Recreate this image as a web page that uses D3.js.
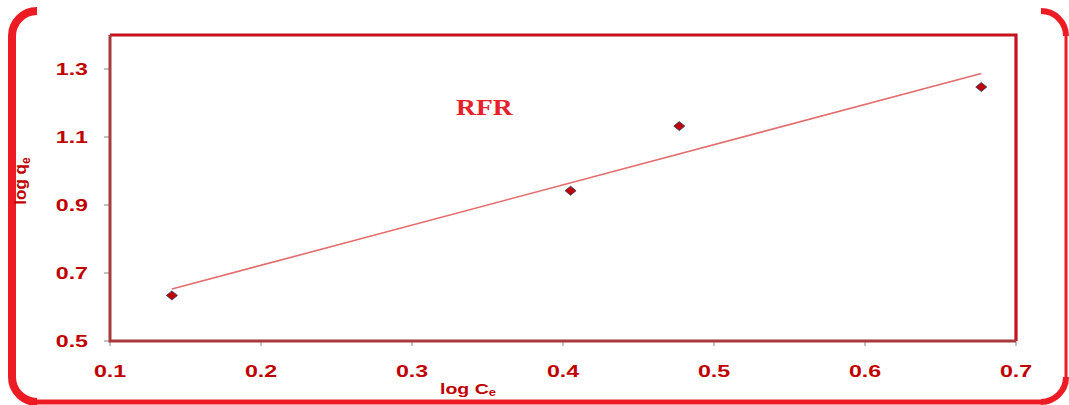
<!DOCTYPE html>
<html>
<head>
<meta charset="utf-8">
<script src="https://cdn.jsdelivr.net/npm/d3@7"></script>
<style>
  html, body { margin: 0; padding: 0; background: #fff; }
  svg { display: block; }
</style>
</head>
<body>
<svg id="chart" width="1069" height="405"></svg>
<script>
// Freundlich isotherm (linear form) for RFR
const logCe = [0.141, 0.405, 0.477, 0.677];
const logQe = [0.634, 0.942, 1.132, 1.247];
const xTicks = [0.1, 0.2, 0.3, 0.4, 0.5, 0.6, 0.7];
const yTicks = [0.5, 0.7, 0.9, 1.1, 1.3];
const seriesName = "RFR";

const svg = d3.select("#chart");
const plot = { left: 110, right: 1016, top: 35, bottom: 341 };

const x = d3.scaleLinear().domain([0.1, 0.7]).range([plot.left, plot.right]);
const y = d3.scaleLinear().domain([0.5, 1.4]).range([plot.bottom, plot.top]);

const RED = "#ED1C24";
const DARK = "#C00000";
const stretch = 1.45;

// Outer rounded frame (top edge runs outside the canvas, only corners show)
const r = 25;
svg.append("path")
  .attr("d", `M${12 + r},11 A${r},${r} 0 0 0 12,${11 + r} L12,${402 - r} A${r},${r} 0 0 0 ${12 + r},402`)
  .attr("fill", "none").attr("stroke", RED).attr("stroke-width", 8);
svg.append("path")
  .attr("d", `M${12 + r},402 L${1066 - r},402`)
  .attr("fill", "none").attr("stroke", RED).attr("stroke-width", 5);
svg.append("path")
  .attr("d", `M${1066 - r},402 A${r},${r} 0 0 0 1066,${402 - r}`)
  .attr("fill", "none").attr("stroke", RED).attr("stroke-width", 6);
svg.append("path")
  .attr("d", `M1066,${402 - r} L1066,${11 + r}`)
  .attr("fill", "none").attr("stroke", RED).attr("stroke-width", 3);
svg.append("path")
  .attr("d", `M1066,${11 + r} A${r},${r} 0 0 0 ${1066 - r},11`)
  .attr("fill", "none").attr("stroke", RED).attr("stroke-width", 6);

// Tick marks
const g = svg.append("g");
g.selectAll("line.xt").data(xTicks).join("line")
  .attr("x1", d => x(d)).attr("x2", d => x(d))
  .attr("y1", plot.bottom).attr("y2", plot.bottom + 5)
  .attr("stroke", "#9a9a9a").attr("stroke-width", 1.2);
g.selectAll("line.yt").data(yTicks).join("line")
  .attr("x1", plot.left - 6).attr("x2", plot.left)
  .attr("y1", d => y(d)).attr("y2", d => y(d))
  .attr("stroke", "#9a9a9a").attr("stroke-width", 1.2);

// Plot frame: top/right in red, left/bottom axes in a muted red
svg.append("path")
  .attr("d", `M${plot.left},${plot.top} L${plot.right},${plot.top} L${plot.right},${plot.bottom}`)
  .attr("fill", "none").attr("stroke", "#C8101E").attr("stroke-width", 3.2);
svg.append("path")
  .attr("d", `M${plot.left},${plot.top} L${plot.left},${plot.bottom} L${plot.right},${plot.bottom}`)
  .attr("fill", "none").attr("stroke", "#A8393C").attr("stroke-width", 3);

// Tick labels
const fmt = d3.format(".1f");
svg.selectAll("text.xl").data(xTicks).join("text")
  .attr("transform", d => `translate(${x(d)},377) scale(${stretch},1)`)
  .attr("text-anchor", "middle")
  .attr("font-family", "Arial, 'Liberation Sans', sans-serif")
  .attr("font-weight", "bold").attr("font-size", 16)
  .attr("fill", DARK)
  .text(d => fmt(d));
svg.selectAll("text.yl").data(yTicks).join("text")
  .attr("transform", d => `translate(88,${y(d) + 5.5}) scale(${stretch},1)`)
  .attr("text-anchor", "end")
  .attr("font-family", "Arial, 'Liberation Sans', sans-serif")
  .attr("font-weight", "bold").attr("font-size", 16)
  .attr("fill", DARK)
  .text(d => fmt(d));

// Axis titles
const yTitle = svg.append("text")
  .attr("transform", "translate(26,181) rotate(-90)")
  .attr("text-anchor", "middle")
  .attr("font-family", "Arial, 'Liberation Sans', sans-serif")
  .attr("font-weight", "bold").attr("font-size", 17)
  .attr("fill", DARK);
yTitle.append("tspan").text("log q");
yTitle.append("tspan").attr("font-size", 12).attr("dy", 4).text("e");

const xTitle = svg.append("text")
  .attr("transform", `translate(468,394) scale(1.3,1)`)
  .attr("text-anchor", "middle")
  .attr("font-family", "Arial, 'Liberation Sans', sans-serif")
  .attr("font-weight", "bold").attr("font-size", 15)
  .attr("fill", DARK);
xTitle.append("tspan").text("log C");
xTitle.append("tspan").attr("font-size", 10).attr("dy", 2).text("e");

// Series label
svg.append("text")
  .attr("transform", "translate(456,115) scale(1.15,1)")
  .attr("font-family", "'Times New Roman', 'Liberation Serif', serif")
  .attr("font-weight", "bold").attr("font-size", 24)
  .attr("fill", "#E8202A")
  .text(seriesName);

// Least-squares trend line through the data
const n = logCe.length;
const mx = d3.mean(logCe), my = d3.mean(logQe);
let sxy = 0, sxx = 0;
for (let i = 0; i < n; i++) {
  sxy += (logCe[i] - mx) * (logQe[i] - my);
  sxx += (logCe[i] - mx) ** 2;
}
const slope = sxy / sxx, icpt = my - slope * mx;
const [x0, x1] = d3.extent(logCe);
svg.append("line")
  .attr("x1", x(x0)).attr("y1", y(icpt + slope * x0))
  .attr("x2", x(x1)).attr("y2", y(icpt + slope * x1))
  .attr("stroke", "#E36C6C").attr("stroke-width", 1.6);

// Data markers (diamonds)
const pts = logCe.map((v, i) => ({ cx: v, cy: logQe[i] }));
svg.selectAll("path.pt").data(pts).join("path")
  .attr("d", "M0,-4.5 L5.5,0 L0,4.5 L-5.5,0 Z")
  .attr("transform", d => `translate(${x(d.cx)},${y(d.cy)})`)
  .attr("fill", DARK)
  .attr("stroke", "#34406E").attr("stroke-width", 0.9);
</script>
</body>
</html>
